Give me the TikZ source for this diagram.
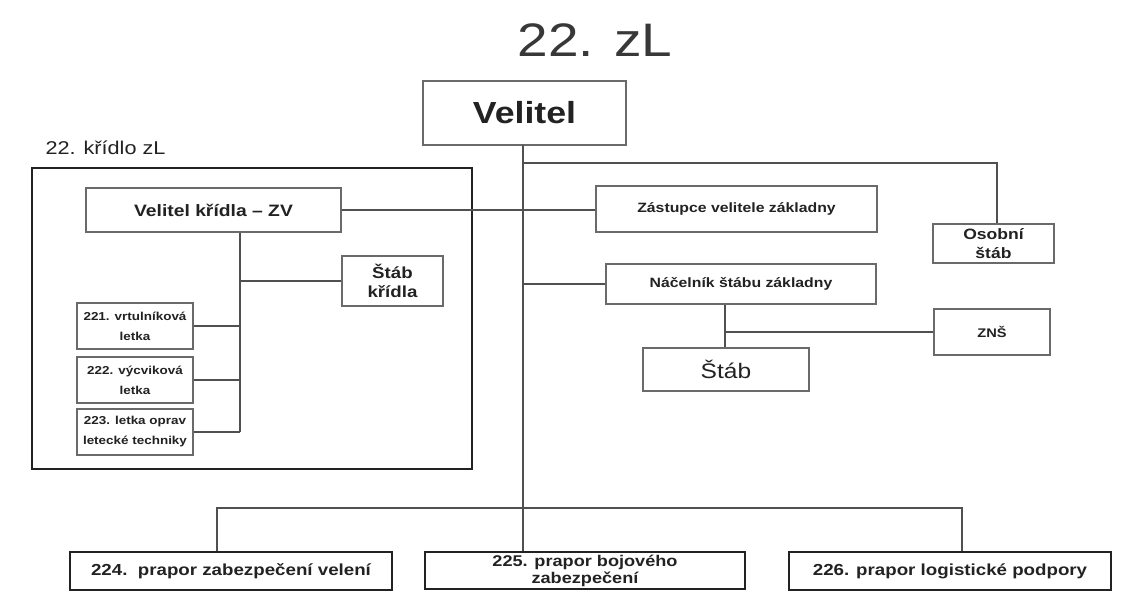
\documentclass[tikz,border=0pt]{standalone}
\usepackage{fontspec}
\setmainfont{Liberation Sans}[FakeStretch=1.17]
\definecolor{ink}{HTML}{222222}
\definecolor{ln}{HTML}{505050}
\definecolor{bx}{HTML}{6A6A6A}
\begin{document}
\begin{tikzpicture}[x=1pt,y=-1pt,
  box/.style={draw=bx,line width=1.3pt,fill=white,inner sep=0pt,align=center,text=ink,font=\bfseries},
  thick box/.style={draw=ink,line width=2.6pt,fill=white,inner sep=0pt,align=center,text=ink,font=\bfseries\fontsize{16}{17}\selectfont},
  conn/.style={draw=ln,line width=1.5pt}]
\useasboundingbox[fill=white] (0,0) rectangle (1124,604);

% title
\node[text=ink!90,font=\fontsize{47}{50}\selectfont,anchor=base] (title) at (595,57) {22. zL};

% frame for 22. kridlo
\node[draw=ink,line width=2.8pt,minimum width=440pt,minimum height=301pt,inner sep=0pt] (frame) at (252,318.5) {};
\node[text=ink,font=\fontsize{18.5}{20}\selectfont,anchor=base west] (flabel) at (42,155) {22. křídlo zL};

% nodes
\node[box,minimum width=203pt,minimum height=64pt,font=\bfseries\fontsize{30.5}{32}\selectfont] (velitel) at (524.5,113) {Velitel};
\node[box,minimum width=255pt,minimum height=44pt,font=\bfseries\fontsize{16.5}{18}\selectfont] (vk) at (213.5,210) {Velitel křídla – ZV};
\node[box,minimum width=101pt,minimum height=50pt,font=\bfseries\fontsize{16}{19}\selectfont] (stabk) at (392.5,281) {Štáb\\křídla};
\node[box,minimum width=116pt,minimum height=46pt,font=\bfseries\fontsize{11.5}{20}\selectfont] (l221) at (135,326) {221. vrtulníková\\letka};
\node[box,minimum width=116pt,minimum height=46pt,font=\bfseries\fontsize{11.5}{20}\selectfont] (l222) at (135,380) {222. výcviková\\letka};
\node[box,minimum width=116pt,minimum height=46pt,font=\bfseries\fontsize{11.5}{20}\selectfont] (l223) at (135,432) {223. letka oprav\\letecké techniky};

\node[box,minimum width=281pt,minimum height=46pt,font=\bfseries\fontsize{13.5}{15}\selectfont] (zast) at (736.5,209) {Zástupce velitele základny};
\node[box,minimum width=121pt,minimum height=39pt,font=\bfseries\fontsize{15}{18.5}\selectfont] (osob) at (993.5,243.5) {Osobní\\štáb};
\node[box,minimum width=270pt,minimum height=40pt,font=\bfseries\fontsize{13.5}{15}\selectfont] (nac) at (741,284) {Náčelník štábu základny};
\node[box,minimum width=116pt,minimum height=46pt,font=\bfseries\fontsize{12.5}{14}\selectfont] (zns) at (992,332) {ZNŠ};
\node[box,minimum width=166pt,minimum height=43pt,font=\fontsize{21}{23}\selectfont] (stab) at (726,369.5) {Štáb};

\node[thick box,minimum width=322pt,minimum height=38pt] (p224) at (231,571) {224.\ \ prapor zabezpečení velení};
\node[thick box,minimum width=320pt,minimum height=37pt,font=\bfseries\fontsize{15.5}{17}\selectfont] (p225) at (585,570.5) {225. prapor bojového\\zabezpečení};
\node[thick box,minimum width=322pt,minimum height=38pt] (p226) at (950,571) {226. prapor logistické podpory};

% helper coordinates
\coordinate (trunk) at (523,145);
\coordinate (tOs) at (523,163);
\coordinate (kt) at (240,233);
\coordinate (kb) at (240,432);
\coordinate (nt) at (725,305);
\coordinate (bl) at (217,508);
\coordinate (br) at (962,508);
\coordinate (osx) at (997,163);

% connectors
\draw[conn] (trunk) -- (trunk |- p225.north);
\draw[conn] (tOs) -- (osx) -- (osx |- osob.north);
\draw[conn] (vk.east) -- (vk.east -| zast.west);
\draw[conn] (trunk |- nac.west) -- (nac.west);
\draw[conn] (nt) -- (nt |- stab.north);
\draw[conn] (nt |- zns.west) -- (zns.west);
\draw[conn] (kt) -- (kb);
\draw[conn] (kt |- stabk.west) -- (stabk.west);
\draw[conn] (l221.east) -- (l221.east -| kt);
\draw[conn] (l222.east) -- (l222.east -| kt);
\draw[conn] (l223.east) -- (l223.east -| kt);
\draw[conn] (bl |- p224.north) -- (bl) -- (br) -- (br |- p226.north);
\end{tikzpicture}
\end{document}
